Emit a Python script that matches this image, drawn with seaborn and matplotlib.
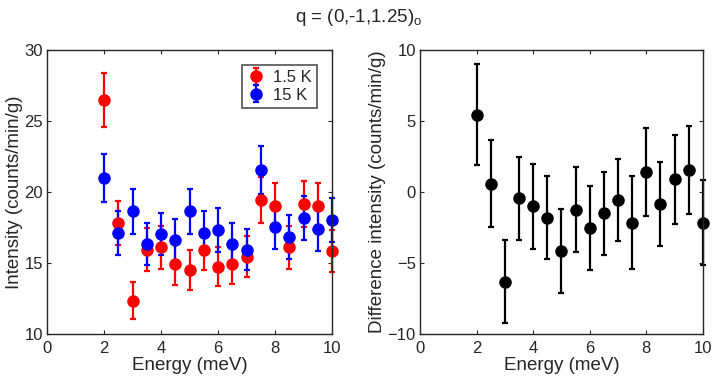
import numpy as np
import pandas as pd
import matplotlib
matplotlib.use('Agg')
import matplotlib.pyplot as plt
import seaborn as sns

energy = [2, 2.5, 3, 3.5, 4, 4.5, 5, 5.5, 6, 6.5, 7, 7.5, 8, 8.5, 9, 9.5, 10]

int_1p5K = [26.5, 17.85, 12.35, 15.95, 16.1, 14.9, 14.5, 15.95, 14.75, 14.9,
            15.45, 19.45, 19.05, 16.1, 19.15, 19.05, 15.85]
err_1p5K = [1.9, 1.55, 1.3, 1.5, 1.5, 1.45, 1.4, 1.45, 1.4, 1.4,
            1.45, 1.6, 1.6, 1.5, 1.6, 1.6, 1.45]

int_15K = [21.0, 17.15, 18.65, 16.35, 17.05, 16.6, 18.65, 17.15, 17.3, 16.35,
           15.95, 21.55, 17.55, 16.85, 18.2, 17.4, 18.0]
err_15K = [1.7, 1.55, 1.6, 1.5, 1.5, 1.5, 1.6, 1.55, 1.55, 1.5,
           1.45, 1.7, 1.55, 1.55, 1.55, 1.55, 1.55]

diff = [5.45, 0.6, -6.3, -0.45, -1.0, -1.8, -4.15, -1.25, -2.55, -1.5,
        -0.55, -2.15, 1.4, -0.85, 0.9, 1.55, -2.15]
diff_err = [3.55, 3.05, 2.9, 2.95, 3.0, 2.9, 2.95, 3.0, 2.95, 2.9,
            2.9, 3.3, 3.1, 2.95, 3.15, 3.1, 3.0]

sns.set_style('ticks')
plt.rcParams['font.family'] = ['Liberation Sans', 'DejaVu Sans']
plt.rcParams['mathtext.fontset'] = 'custom'
plt.rcParams['mathtext.rm'] = 'Liberation Sans'

fig = plt.figure(figsize=(7.18, 3.88), dpi=100)
ax1 = fig.add_axes([0.0655, 0.139, 0.397, 0.732])
ax2 = fig.add_axes([0.585, 0.139, 0.394, 0.732])

style = dict(fmt='o', markersize=8, elinewidth=1.6, capsize=2.5, capthick=1.6)
for x_vals, y_vals, e_vals, col, lab, ax in [
    (energy, int_1p5K, err_1p5K, '#ff0000', '1.5 K', ax1),
    (energy, int_15K, err_15K, '#0000ff', '15 K', ax1),
    (energy, diff, diff_err, 'black', None, ax2),
]:
    cont = ax.errorbar(x_vals, y_vals, yerr=e_vals, color=col, label=lab, **style)
    for art in cont.get_children():
        art.set_clip_on(False)

ax1.set_ylim(10, 30)
ax1.set_yticks([10, 15, 20, 25, 30])
ax2.set_ylim(-10, 10)
ax2.set_yticks([-10, -5, 0, 5, 10])

for ax in (ax1, ax2):
    ax.set_xlim(0, 10)
    ax.set_xticks([0, 2, 4, 6, 8, 10])
    ax.set_xlabel('Energy (meV)', fontsize=13.5, color='#262626', labelpad=1)
    ax.tick_params(direction='in', top=True, right=True, labelsize=12,
                   colors='#262626', length=3, width=0.8, pad=3)
    ax.tick_params(axis='x', pad=5)
    for s in ax.spines.values():
        s.set_linewidth(1.0)
        s.set_color('#262626')
        s.set_visible(True)

ax1.set_ylabel('Intensity (counts/min/g)', fontsize=13.5, color='#262626', labelpad=1)
ax2.set_ylabel('Difference intensity (counts/min/g)', fontsize=13.5, color='#262626', labelpad=1)

leg = ax1.legend(loc='upper right', fontsize=12, frameon=True, fancybox=False,
                 handlelength=1.1, handletextpad=0.5, borderpad=0.3,
                 labelspacing=0.15, borderaxespad=0.9)
leg.get_frame().set_edgecolor('#262626')
leg.get_frame().set_linewidth(1.2)

fig.text(0.5, 0.955, r'q = (0,-1,1.25)$_\mathrm{o}$', ha='center', va='center',
         fontsize=13.5, color='#262626')

fig.savefig('out.png', dpi=100)
